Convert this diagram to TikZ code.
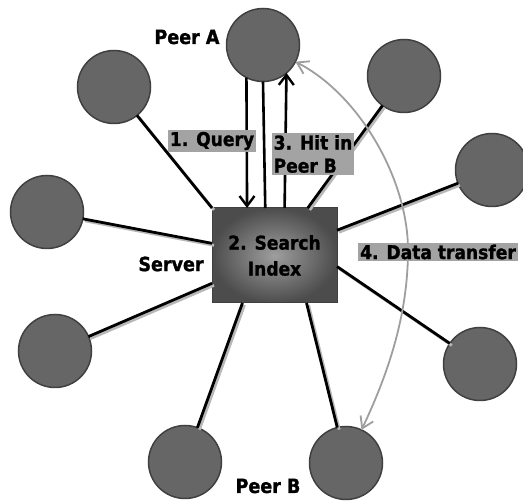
\documentclass[tikz,border=0pt]{standalone}
\usepackage{fontspec}
\setmainfont{DejaVu Sans Condensed}[BoldFeatures={FakeBold=1.3}]
\usetikzlibrary{arrows.meta}
\begin{document}
\begin{tikzpicture}[x=1pt,y=-1pt,
  peer/.style={circle, minimum size=73pt, inner sep=0pt, outer sep=0pt,
    fill=black!60, draw=black!75, line width=1.5pt},
  serverbox/.style={rectangle, minimum width=125pt, minimum height=95pt,
    inner sep=0pt, outer sep=0pt, draw=black!75, line width=1pt,
    shading=radial, inner color=black!38, outer color=black!70,
    align=center, font=\bfseries\fontsize{19}{26}\selectfont},
  link/.style={line width=2.8pt, black,
    preaction={draw=black!28, line width=2.8pt,
      transform canvas={shift={(2pt,-2pt)}}}},
  msg/.style={line width=2.6pt, black,
    -{Straight Barb[length=10pt,width=15pt,line width=2.4pt]}},
  plainmsg/.style={line width=2.6pt, black},
  xfer/.style={line width=1.8pt, black!38,
    {Straight Barb[length=11pt,width=14pt]}-{Straight Barb[length=11pt,width=14pt]}},
  tag/.style={fill=black!36, inner sep=2pt, align=left,
    font=\bfseries\fontsize{19}{23}\selectfont},
  caption/.style={font=\bfseries\fontsize{19.5}{22}\selectfont},
]
\useasboundingbox (0,0) rectangle (523,502);

% central index server
\node[serverbox] (srv) at (274.5,255.5) {2. Search\\Index};

% peers around the server
\node[peer] (pa) at (263,45)  {};
\node[peer] (tl) at (114,87)  {};
\node[peer] (lf) at (47,212)  {};
\node[peer] (bl) at (55,351)  {};
\node[peer] (bt) at (185,462) {};
\node[peer] (pb) at (346,463) {};
\node[peer] (br) at (480,364) {};
\node[peer] (rt) at (492,170) {};
\node[peer] (tr) at (404,76)  {};

% links from the peers to the server
\draw[link] (tl) -- (srv.north west);
\draw[link] (lf) -- (srv.169);
\draw[link] (bl) -- (srv.204);
\draw[link] (bt) -- (srv.236);
\draw[link] (pb) -- (srv.304);
\draw[link] (br) -- (srv.350);
\draw[link] (rt) -- (srv.22);
\draw[link] (tr) -- (srv.55);

% query and answer between peer A and the server
\draw[msg] (pa.243) -- (srv.120);
\draw[plainmsg] (pa.south) -- (srv.101);
\draw[msg] (srv.78) -- (pa.-50);

% direct transfer between peer A and peer B
\coordinate (bend) at (408,250);
\draw[xfer] (pa) .. controls (360,95) and (408,180) .. (bend)
  .. controls (408,320) and (385,380) .. (pb);

% step labels
\node[tag] (q)   at (212,141) {1. Query};
\node[tag] (hit) at (313,154) {3. Hit in\\Peer B};
\node[tag] (dt)  at (438,252) {4. Data transfer};

% names
\node[caption] (la) at (187,37)  {Peer A};
\node[caption] (ls) at (171,264) {Server};
\node[caption] (lb) at (268,486) {Peer B};
\end{tikzpicture}
\end{document}
